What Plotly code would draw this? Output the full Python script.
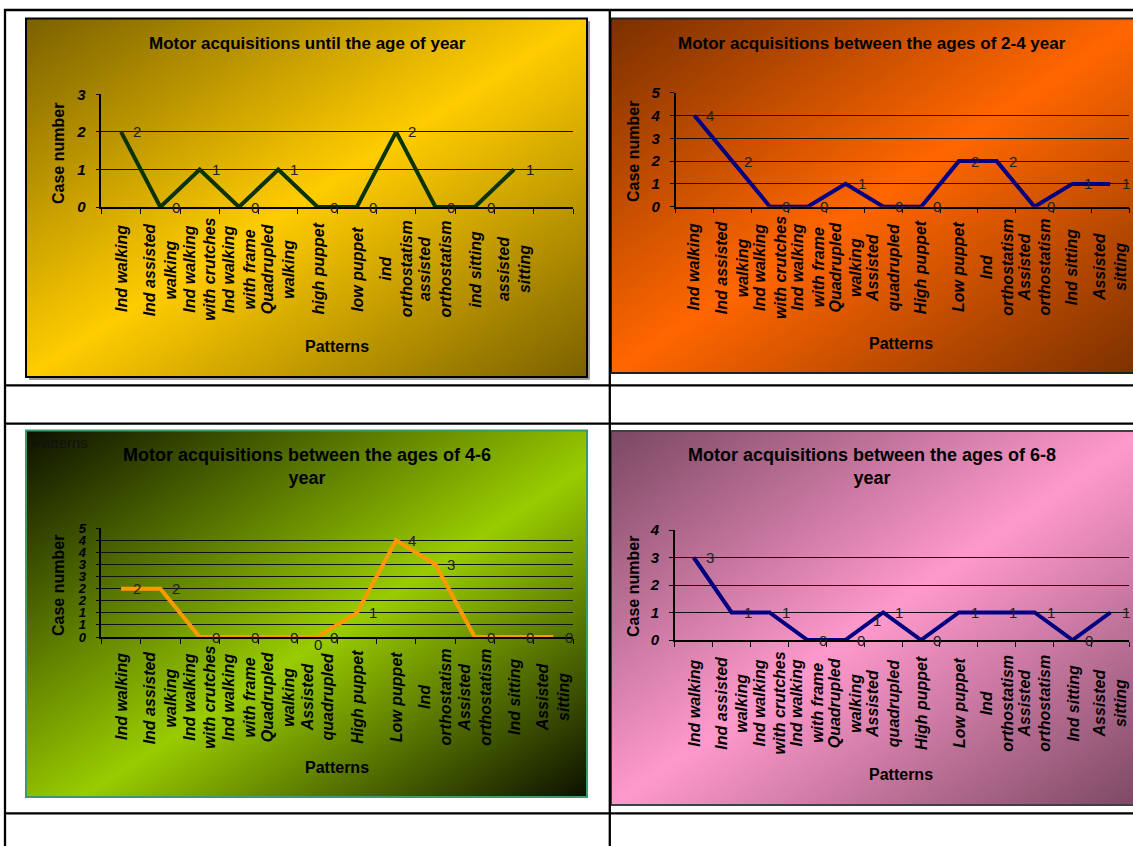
import base64
import textwrap
import plotly.graph_objects as go

# ---------------- data ----------------
patterns_until = ["Ind walking", "Ind assisted walking", "Ind walking with crutches",
                  "Ind walking with frame", "Quadrupled walking", "high puppet",
                  "low puppet", "ind orthostatism", "assisted orthostatism",
                  "ind sitting", "assisted sitting"]
patterns = ["Ind walking", "Ind assisted walking", "Ind walking with crutches",
            "Ind walking with frame", "Quadrupled walking", "Assisted quadrupled",
            "High puppet", "Low puppet", "Ind orthostatism", "Assisted orthostatism",
            "Ind sitting", "Assisted sitting"]

cases_until = [2, 0, 1, 0, 1, 0, 0, 2, 0, 0, 1]
cases_2_4 = [4, 2, 0, 0, 1, 0, 0, 2, 2, 0, 1, 1]
cases_4_6 = [2, 2, 0, 0, 0, 0, 1, 4, 3, 0, 0, 0]
cases_6_8 = [3, 1, 1, 0, 0, 1, 0, 1, 1, 1, 0, 1]

yticks_until = [0, 1, 2, 3]
ylabels_until = ["0", "1", "2", "3"]
yticks_2_4 = [0, 1, 2, 3, 4, 5]
ylabels_2_4 = ["0", "1", "2", "3", "4", "5"]
yticks_4_6 = [0, 0.5, 1, 1.5, 2, 2.5, 3, 3.5, 4, 4.5]
ylabels_4_6 = ["0", "1", "1", "2", "2", "3", "3", "4", "4", "5"]
yticks_6_8 = [0, 1, 2, 3, 4]
ylabels_6_8 = ["0", "1", "2", "3", "4"]

titles = ["Motor acquisitions until the age of year",
          "Motor acquisitions between the ages of 2-4 year",
          "Motor acquisitions between the ages of 4-6<br>year",
          "Motor acquisitions between the ages of 6-8<br>year"]

# ---------------- layout helpers ----------------
W, H = 1133, 846
FONT = "Liberation Sans, Arial, sans-serif"


def px(x):
    return x / W


def py(y):
    return 1 - y / H


def grad_src(dark, mid, mid_at=0.5):
    svg = ("<svg xmlns='http://www.w3.org/2000/svg' width='400' height='300' "
           "viewBox='0 0 400 300' preserveAspectRatio='none'><defs>"
           "<linearGradient id='g' x1='0' y1='0' x2='1' y2='1'>"
           f"<stop offset='0' stop-color='{dark}'/>"
           f"<stop offset='{mid_at}' stop-color='{mid}'/>"
           f"<stop offset='1' stop-color='{dark}'/>"
           "</linearGradient></defs>"
           "<rect width='400' height='300' fill='url(#g)'/></svg>")
    return "data:image/svg+xml;base64," + base64.b64encode(svg.encode()).decode()


charts = [
    dict(cats=patterns_until, vals=cases_until, color="#0a330a", yt=yticks_until, yl=ylabels_until,
         ymax=3, x0=101.4, x1=573, yb=207, yt_px=94.3, tfs=17, tx=307, ty=43, laby=269,
         cnx=58, cny=154, patx=337, paty=346, box=(26, 18.5, 587, 377), ytfs=15,
         dark="#7a6100", mid="#FFCC00", mid_at=0.5, border="#000000"),
    dict(cats=patterns, vals=cases_2_4, color="#000080", yt=yticks_2_4, yl=ylabels_2_4,
         ymax=5, x0=675.5, x1=1129, yb=206.7, yt_px=92.7, tfs=17, tx=872, ty=43, laby=267,
         cnx=633, cny=152, patx=901, paty=343, box=(611, 18.5, 1145, 373), ytfs=15,
         dark="#7a3000", mid="#FF6600", mid_at=0.5, border="#202020"),
    dict(cats=patterns, vals=cases_4_6, color="#FF9900", yt=yticks_4_6, yl=ylabels_4_6,
         ymax=4.5, x0=101.4, x1=573, yb=637, yt_px=528.3, tfs=18, tx=307, ty=466, laby=697,
         cnx=58, cny=586, patx=337, paty=767, box=(26, 430.5, 587, 797), ytfs=13,
         dark="#0c1000", mid="#99CC00", mid_at=0.55, border="#3a9a6a"),
    dict(cats=patterns, vals=cases_6_8, color="#000080", yt=yticks_6_8, yl=ylabels_6_8,
         ymax=4, x0=674.8, x1=1129.4, yb=640, yt_px=530, tfs=18, tx=872, ty=466, laby=703,
         cnx=633, cny=587, patx=901, paty=774, box=(611, 431, 1145, 805), ytfs=15,
         dark="#7a4862", mid="#FF99CC", mid_at=0.5, border="#404040"),
]

fig = go.Figure()
annotations = []
shapes = []
images = []
layout_axes = {}

for k, c in enumerate(charts):
    sfx = "" if k == 0 else str(k + 1)
    xa, ya = "x" + sfx, "y" + sfx
    xs = list(range(len(c["vals"])))
    fig.add_trace(go.Scatter(x=xs, y=c["vals"], mode="lines", xaxis=xa, yaxis=ya,
                             line=dict(color=c["color"], width=4), showlegend=False,
                             hoverinfo="skip"))
    layout_axes["xaxis" + sfx] = dict(
        domain=[px(c["x0"]), px(c["x1"])], anchor=ya, range=[-0.5, 11.5], automargin=False,
        tickmode="linear", tick0=-0.5, dtick=1, ticks="outside", ticklen=5,
        tickcolor="black", tickwidth=1.3, showticklabels=False, showgrid=False,
        zeroline=False, showline=True, linecolor="black", linewidth=1.5, fixedrange=True)
    layout_axes["yaxis" + sfx] = dict(
        domain=[py(c["yb"]), py(c["yt_px"])], anchor=xa, range=[0, c["ymax"]], automargin=False,
        tickmode="array", tickvals=c["yt"], ticktext=c["yl"], ticks="outside", ticklen=4,
        tickcolor="black", tickwidth=1.3, ticklabelstandoff=7,
        tickfont=dict(family=FONT, size=c["ytfs"], color="black", weight="bold", style="italic"),
        showgrid=True, gridcolor="#111111", gridwidth=1.2, zeroline=False,
        showline=True, linecolor="black", linewidth=1.5, fixedrange=True)

    # category labels (wrapped, rotated, centred like the original)
    for i, name in enumerate(c["cats"]):
        annotations.append(dict(
            x=i, y=py(c["laby"]), xref=xa, yref="paper", text="<br>".join(textwrap.wrap(name, 13)),
            textangle=-90, showarrow=False, align="center", xanchor="center", yanchor="middle",
            font=dict(family=FONT, size=16, color="black", weight="bold", style="italic")))
    # data labels
    for i, v in enumerate(c["vals"]):
        annotations.append(dict(
            x=i, y=v, xref=xa, yref=ya, text=str(v), showarrow=False, xshift=16,
            xanchor="center", yanchor="middle",
            font=dict(family=FONT, size=15, color="#222222")))
    # titles
    annotations.append(dict(x=px(c["tx"]), y=py(c["ty"]), xref="paper", yref="paper",
                            text=titles[k], showarrow=False, xanchor="center", yanchor="middle",
                            align="center",
                            font=dict(family=FONT, size=c["tfs"], color="black", weight="bold")))
    annotations.append(dict(x=px(c["cnx"]), y=py(c["cny"]), xref="paper", yref="paper",
                            text="Case number", textangle=-90, showarrow=False,
                            xanchor="center", yanchor="middle",
                            font=dict(family=FONT, size=16, color="black", weight="bold")))
    annotations.append(dict(x=px(c["patx"]), y=py(c["paty"]), xref="paper", yref="paper",
                            text="Patterns", showarrow=False, xanchor="center", yanchor="middle",
                            font=dict(family=FONT, size=16, color="black", weight="bold")))
    # chart area background + border
    bx0, by0, bx1, by1 = c["box"]
    images.append(dict(source=grad_src(c["dark"], c["mid"], c["mid_at"]), xref="paper",
                       yref="paper", x=px(bx0), y=py(by0), sizex=(bx1 - bx0) / W,
                       sizey=(by1 - by0) / H, xanchor="left", yanchor="top",
                       sizing="stretch", layer="below"))
    shapes.append(dict(type="rect", xref="paper", yref="paper", x0=px(bx0), x1=px(bx1),
                       y0=py(by1), y1=py(by0), line=dict(color=c["border"], width=2),
                       layer="below"))

# stray labels present in the original
annotations.append(dict(x=px(60), y=py(442), xref="paper", yref="paper", text="Patterns",
                        showarrow=False, xanchor="center", yanchor="middle",
                        font=dict(family=FONT, size=15, color="#111111")))
annotations.append(dict(x=5, y=cases_4_6[5], xref="x3", yref="y3", text="0", showarrow=False,
                        xanchor="center", yanchor="middle", yshift=-7,
                        font=dict(family=FONT, size=15, color="#222222")))
annotations.append(dict(x=5, y=cases_6_8[5], xref="x4", yref="y4", text="1", showarrow=False,
                        xanchor="center", yanchor="middle", xshift=-6, yshift=-8,
                        font=dict(family=FONT, size=15, color="#222222")))

# shadow of the first chart box
shapes.append(dict(type="line", xref="paper", yref="paper", x0=px(589), x1=px(589),
                   y0=py(21), y1=py(379.5), line=dict(color="#9a9a9a", width=2)))
shapes.append(dict(type="line", xref="paper", yref="paper", x0=px(29), x1=px(589),
                   y0=py(379), y1=py(379), line=dict(color="#9a9a9a", width=2)))

# table rules of the page
for yy in [10, 385.3, 423.7, 813.3]:
    shapes.append(dict(type="line", xref="paper", yref="paper", x0=px(4), x1=px(1133),
                       y0=py(yy), y1=py(yy), line=dict(color="black", width=2.3)))
for xx in [5, 609.8]:
    shapes.append(dict(type="line", xref="paper", yref="paper", x0=px(xx), x1=px(xx),
                       y0=py(9), y1=0, line=dict(color="black", width=2.3)))

fig.update_layout(width=W, height=H, margin=dict(l=0, r=0, t=0, b=0, pad=0, autoexpand=False),
                  paper_bgcolor="white", plot_bgcolor="rgba(0,0,0,0)",
                  annotations=annotations, shapes=shapes, images=images, **layout_axes)

fig.write_html("out.html")
